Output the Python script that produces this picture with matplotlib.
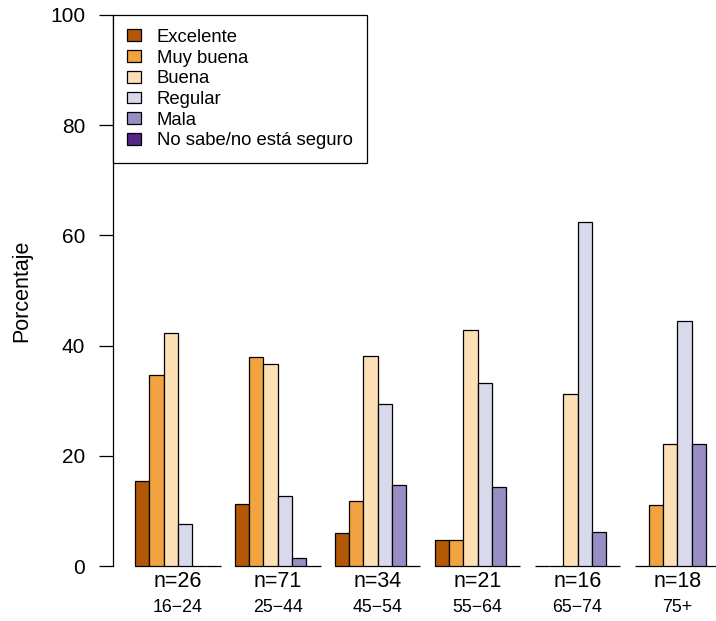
import numpy as np
import matplotlib
matplotlib.use('Agg')
from matplotlib import pyplot as plt

plt.rcParams['font.family'] = ['Liberation Sans', 'DejaVu Sans']

# datos
edades = ['16−24', '25−44', '45−54', '55−64', '65−74', '75+']
n_grupo = [26, 71, 34, 21, 16, 18]
categorias = ['Excelente', 'Muy buena', 'Buena', 'Regular', 'Mala', 'No sabe/no está seguro']
excelente = [15.4, 11.3, 5.9, 4.8, 0, 0]
muy_buena = [34.6, 38.0, 11.8, 4.8, 0, 11.1]
buena = [42.3, 36.6, 38.2, 42.9, 31.25, 22.2]
regular = [7.7, 12.7, 29.4, 33.3, 62.5, 44.4]
mala = [0, 1.4, 14.7, 14.3, 6.25, 22.2]
no_sabe = [0, 0, 0, 0, 0, 0]
colores = ['#B35806', '#F1A340', '#FEE0B6', '#D8DAEB', '#998EC3', '#542788']

series = [excelente, muy_buena, buena, regular, mala, no_sabe]

fig = plt.figure(figsize=(7.16, 6.21), dpi=100)
ax = fig.add_axes([113/716, 55/621, 603/716, 551/621])

# barplot estilo R: beside=TRUE, space=c(0,1)
grupos = np.arange(len(edades)) * 7 + 1
for j, (vals, col) in enumerate(zip(series, colores)):
    ax.bar(grupos + j, vals, width=1, align='edge', color=col,
           edgecolor='black', linewidth=0.9, label=categorias[j], clip_on=False)

ax.set_xlim(-0.538, 41.7)
ax.set_ylim(0, 100)
for s in ['top', 'right', 'bottom']:
    ax.spines[s].set_visible(False)
ax.spines['left'].set_linewidth(0.9)
ax.set_xticks([])
ax.set_yticks(range(0, 101, 20))
ax.tick_params(axis='y', length=10, width=0.9, pad=10, labelsize=15)
ax.set_ylabel('Porcentaje', fontsize=15.5)
ax.yaxis.set_label_coords(-0.134, 0.5)

centros = grupos + 3
for x, n, e in zip(centros, n_grupo, edades):
    ax.text(x, -0.029, 'n=%d' % n, transform=ax.get_xaxis_transform(),
            ha='center', va='center', fontsize=15.5)
    ax.text(x, -0.075, e, transform=ax.get_xaxis_transform(),
            ha='center', va='center', fontsize=12.8)

leg = ax.legend(loc='upper left', bbox_to_anchor=(0, 1), borderaxespad=0,
                fancybox=False, edgecolor='black', framealpha=1, fontsize=13.3,
                handlelength=0.76, handleheight=0.6, handletextpad=0.86,
                labelspacing=0.2, borderpad=0.75)
leg.get_frame().set_linewidth(0.9)

fig.savefig('out.png', dpi=100)
